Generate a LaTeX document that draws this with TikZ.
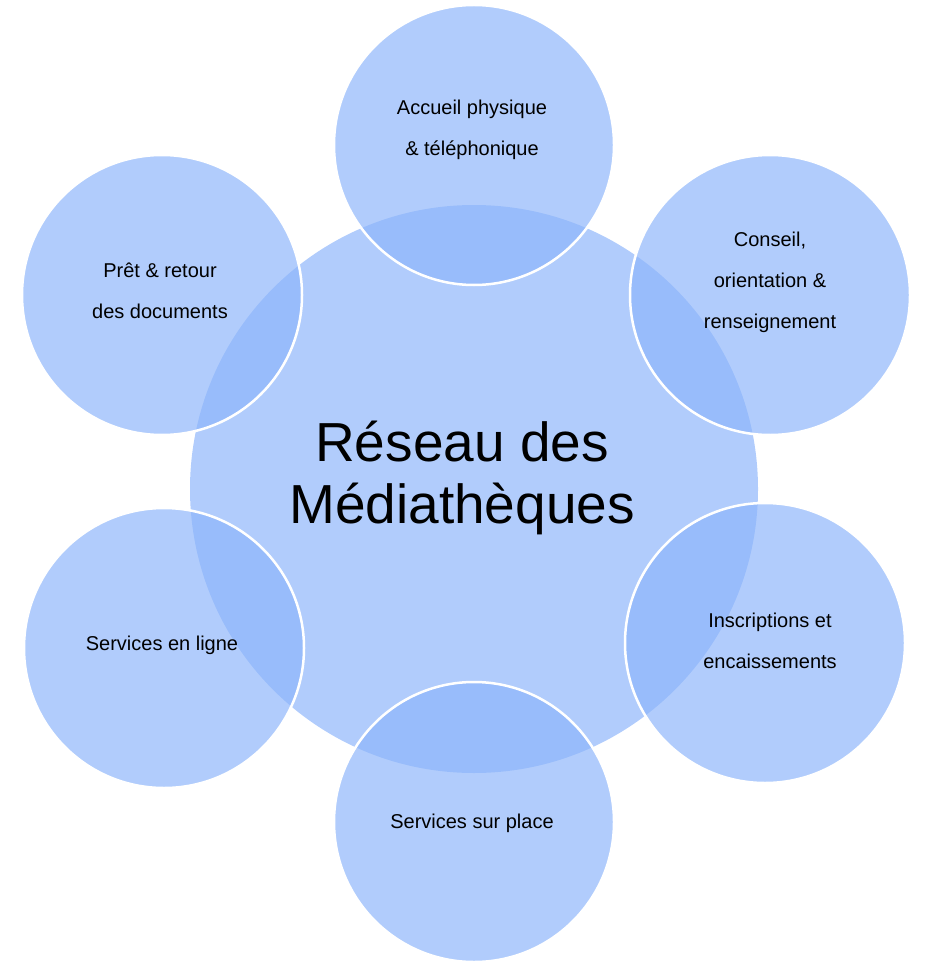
\documentclass[tikz,border=0pt]{standalone}
\usepackage{fontspec}
\setmainfont{Liberation Sans}
\definecolor{cb}{RGB}{140,180,250}
\begin{document}
\begin{tikzpicture}[x=1pt,y=-1pt,
  blob/.style={fill=cb,fill opacity=0.68,draw=white,line width=2.5pt},
  lbl/.style={align=center,font=\fontsize{20}{41}\selectfont,text=black}]
\useasboundingbox (0,0) rectangle (930,968);
\fill[cb,fill opacity=0.68] (474,489) circle (284);
\coordinate (c) at (474,489);
\foreach \n/\x/\y in {t/474/145,tr/770/295,br/765/643,b/474/822,bl/164/648,tl/162/295}{
  \filldraw[blob] (\x,\y) circle (140);
  \coordinate (\n) at (\x,\y);
}
\node[lbl,font=\fontsize{55}{62}\selectfont] (nc) at (462,478) {Réseau des\\Médiathèques};
\node[lbl] (nt) at (472,130) {Accueil physique\\\& téléphonique};
\node[lbl] (ntr) at (770,282) {Conseil,\\orientation \&\\renseignement};
\node[lbl] (nbr) at (770,641) {Inscriptions et\\encaissements};
\node[lbl] (nb) at (472,823) {Services sur place};
\node[lbl] (nbl) at (162,645) {Services en ligne};
\node[lbl] (ntl) at (160,291) {Prêt \& retour\\des documents};
\end{tikzpicture}
\end{document}
